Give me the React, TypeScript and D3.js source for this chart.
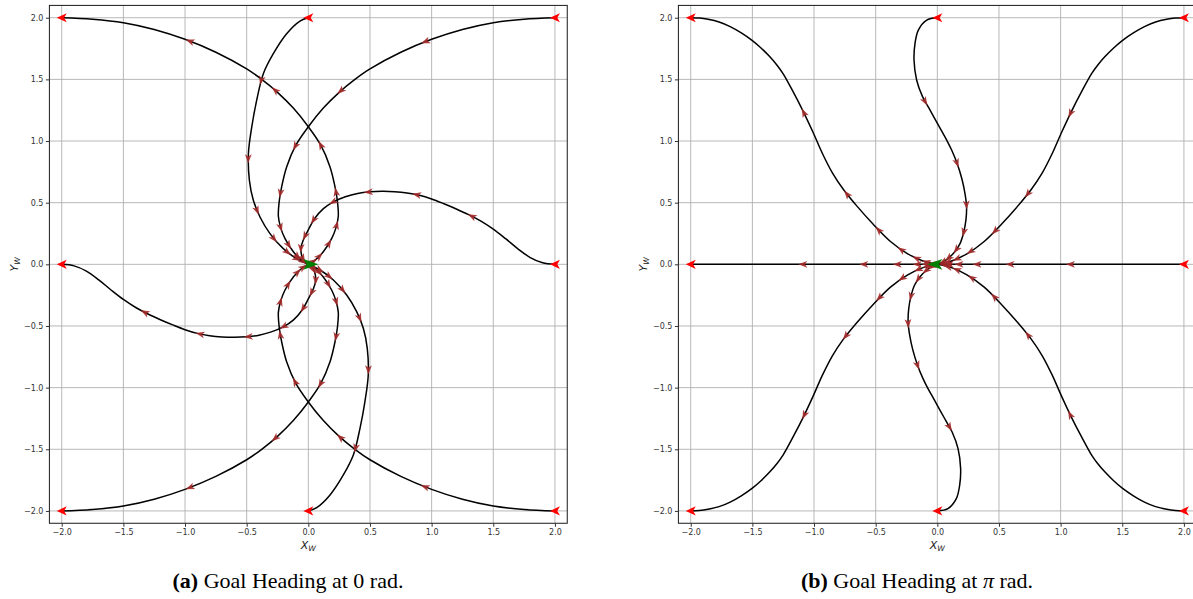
import React, { useEffect, useRef } from "react";
import * as d3 from "d3";

type Pt = [number, number];

// ---------- shared axis setup ----------
const TICK_VALUES: number[] = [-2, -1.5, -1, -0.5, 0, 0.5, 1, 1.5, 2];
const AXIS_LIMIT = 2.1;

// start heading of every run and the goal heading of each panel (rad)
const START_HEADING = Math.PI;
const GOAL_HEADINGS: number[] = [0, Math.PI];

// ---------- panel (a): goal heading 0 rad ----------
const A_FROM_NW: Pt[] = [[-2, 2], [-1.75, 1.988], [-1.5, 1.96], [-1.25, 1.905], [-1.0, 1.825], [-0.75, 1.72], [-0.5, 1.585], [-0.378, 1.5], [-0.25, 1.395], [-0.12, 1.265], [0, 1.116], [0.1, 0.968], [0.176, 0.79], [0.216, 0.63], [0.235, 0.52], [0.243, 0.39], [0.225, 0.3], [0.19, 0.21], [0.12, 0.1], [0.05, 0.03], [0, 0]];
const A_FROM_NW_HEADINGS: Pt[] = [[-0.96, 1.81], [-0.27, 1.41], [0.1, 0.968], [0.23, 0.589], [0.226, 0.32], [0.17, 0.17], [0.09, 0.065], [0.04, 0.025]];

const A_FROM_NE: Pt[] = [[2, 2], [1.75, 1.988], [1.5, 1.96], [1.25, 1.905], [1.0, 1.825], [0.75, 1.72], [0.5, 1.585], [0.378, 1.5], [0.25, 1.395], [0.12, 1.265], [0, 1.116], [-0.1, 0.968], [-0.176, 0.79], [-0.216, 0.63], [-0.235, 0.52], [-0.243, 0.39], [-0.225, 0.3], [-0.19, 0.21], [-0.12, 0.1], [-0.05, 0.03], [0, 0]];
const A_FROM_NE_HEADINGS: Pt[] = [[0.946, 1.81], [0.262, 1.41], [-0.105, 0.955], [-0.23, 0.575], [-0.22, 0.3], [-0.176, 0.145], [-0.09, 0.06], [-0.04, 0.022]];

const A_FROM_SW: Pt[] = [[-2, -2], [-1.75, -1.988], [-1.5, -1.96], [-1.25, -1.905], [-1.0, -1.825], [-0.75, -1.72], [-0.5, -1.585], [-0.378, -1.5], [-0.25, -1.395], [-0.12, -1.265], [0, -1.116], [0.1, -0.968], [0.176, -0.79], [0.216, -0.63], [0.235, -0.52], [0.243, -0.39], [0.225, -0.3], [0.19, -0.21], [0.12, -0.1], [0.05, -0.03], [0, 0]];
const A_FROM_SW_HEADINGS: Pt[] = [[-0.96, -1.81], [-0.27, -1.41], [0.09, -0.966], [0.224, -0.587], [0.224, -0.303], [0.176, -0.154], [0.09, -0.065], [0.04, -0.025]];

const A_FROM_SE: Pt[] = [[2, -2], [1.75, -1.988], [1.5, -1.96], [1.25, -1.905], [1.0, -1.825], [0.75, -1.72], [0.5, -1.585], [0.378, -1.5], [0.25, -1.395], [0.12, -1.265], [0, -1.116], [-0.1, -0.968], [-0.176, -0.79], [-0.216, -0.63], [-0.235, -0.52], [-0.243, -0.39], [-0.225, -0.3], [-0.19, -0.21], [-0.12, -0.1], [-0.05, -0.03], [0, 0]];
const A_FROM_SE_HEADINGS: Pt[] = [[0.946, -1.808], [0.262, -1.398], [-0.095, -0.946], [-0.23, -0.573], [-0.224, -0.303], [-0.176, -0.154], [-0.09, -0.06], [-0.04, -0.022]];

const A_FROM_N: Pt[] = [[0, 2], [-0.068, 1.973], [-0.176, 1.87], [-0.284, 1.708], [-0.365, 1.546], [-0.419, 1.33], [-0.459, 1.113], [-0.486, 0.897], [-0.478, 0.681], [-0.446, 0.519], [-0.392, 0.384], [-0.311, 0.249], [-0.203, 0.127], [-0.095, 0.046], [0, 0]];
const A_FROM_N_HEADINGS: Pt[] = [[-0.378, 1.49], [-0.486, 0.857], [-0.414, 0.438], [-0.289, 0.2], [-0.18, 0.086], [-0.1, 0.035]];

const A_FROM_S: Pt[] = [[0, -2], [0.068, -1.973], [0.176, -1.87], [0.284, -1.708], [0.365, -1.546], [0.419, -1.33], [0.459, -1.113], [0.486, -0.897], [0.478, -0.681], [0.446, -0.519], [0.392, -0.384], [0.311, -0.249], [0.203, -0.127], [0.095, -0.046], [0, 0]];
const A_FROM_S_HEADINGS: Pt[] = [[0.378, -1.49], [0.486, -0.857], [0.414, -0.438], [0.289, -0.2], [0.18, -0.086], [0.1, -0.035]];

const A_FROM_E: Pt[] = [[2, 0], [1.9, 0.0125], [1.8, 0.055], [1.7, 0.126], [1.6, 0.208], [1.5, 0.285], [1.4, 0.35], [1.3, 0.403], [1.2, 0.449], [1.1, 0.491], [1.0, 0.53], [0.9, 0.56], [0.8, 0.579], [0.7, 0.589], [0.6, 0.592], [0.5, 0.588], [0.4, 0.575], [0.3, 0.548], [0.2, 0.505], [0.12, 0.45], [0.05, 0.37], [0, 0.28], [-0.04, 0.2], [-0.06, 0.13], [-0.05, 0.06], [-0.025, 0.02], [0, 0]];
const A_FROM_E_HEADINGS: Pt[] = [[1.324, 0.38], [0.878, 0.56], [0.486, 0.59], [0.2, 0.505], [0.04, 0.36], [-0.045, 0.24], [-0.06, 0.13], [-0.04, 0.05]];

const A_FROM_W: Pt[] = [[-2, 0], [-1.9, -0.0125], [-1.8, -0.055], [-1.7, -0.126], [-1.6, -0.208], [-1.5, -0.285], [-1.4, -0.35], [-1.3, -0.403], [-1.2, -0.449], [-1.1, -0.491], [-1.0, -0.53], [-0.9, -0.56], [-0.8, -0.579], [-0.7, -0.589], [-0.6, -0.592], [-0.5, -0.588], [-0.4, -0.575], [-0.3, -0.548], [-0.2, -0.505], [-0.12, -0.45], [-0.05, -0.37], [0, -0.28], [0.04, -0.2], [0.06, -0.13], [0.05, -0.06], [0.025, -0.02], [0, 0]];
const A_FROM_W_HEADINGS: Pt[] = [[-1.324, -0.38], [-0.878, -0.56], [-0.486, -0.59], [-0.2, -0.505], [-0.04, -0.36], [0.045, -0.24], [0.06, -0.13], [0.04, -0.05]];

// ---------- panel (b): goal heading pi rad ----------
const B_FROM_W: Pt[] = [[-2, 0], [0, 0]];
const B_FROM_W_HEADINGS: Pt[] = [[-1.09, 0], [-0.595, 0], [-0.325, 0], [-0.165, 0], [-0.09, 0], [-0.045, 0]];

const B_FROM_E: Pt[] = [[2, 0], [0, 0]];
const B_FROM_E_HEADINGS: Pt[] = [[1.08, 0], [0.59, 0], [0.32, 0], [0.175, 0], [0.095, 0], [0.05, 0]];

const B_FROM_NW: Pt[] = [[-2, 2], [-1.93, 1.997], [-1.86, 1.987], [-1.77, 1.965], [-1.68, 1.928], [-1.59, 1.877], [-1.5, 1.815], [-1.43, 1.755], [-1.36, 1.685], [-1.3, 1.615], [-1.25, 1.545], [-1.17, 1.4], [-1.09, 1.245], [-1.01, 1.075], [-0.93, 0.895], [-0.85, 0.74], [-0.76, 0.605], [-0.65, 0.47], [-0.52, 0.325], [-0.38, 0.185], [-0.24, 0.085], [-0.11, 0.025], [0, 0]];
const B_FROM_NW_HEADINGS: Pt[] = [[-1.086, 1.228], [-0.735, 0.57], [-0.478, 0.278], [-0.289, 0.12], [-0.168, 0.055], [-0.09, 0.024]];

const B_FROM_NE: Pt[] = [[2, 2], [1.93, 1.997], [1.86, 1.987], [1.77, 1.965], [1.68, 1.928], [1.59, 1.877], [1.5, 1.815], [1.43, 1.755], [1.36, 1.685], [1.3, 1.615], [1.25, 1.545], [1.17, 1.4], [1.09, 1.245], [1.01, 1.075], [0.93, 0.895], [0.85, 0.74], [0.76, 0.605], [0.65, 0.47], [0.52, 0.325], [0.38, 0.185], [0.24, 0.085], [0.11, 0.025], [0, 0]];
const B_FROM_NE_HEADINGS: Pt[] = [[1.081, 1.224], [0.733, 0.57], [0.468, 0.27], [0.265, 0.11], [0.157, 0.05], [0.085, 0.022]];

const B_FROM_SW: Pt[] = [[-2, -2], [-1.93, -1.997], [-1.86, -1.987], [-1.77, -1.965], [-1.68, -1.928], [-1.59, -1.877], [-1.5, -1.815], [-1.43, -1.755], [-1.36, -1.685], [-1.3, -1.615], [-1.25, -1.545], [-1.17, -1.4], [-1.09, -1.245], [-1.01, -1.075], [-0.93, -0.895], [-0.85, -0.74], [-0.76, -0.605], [-0.65, -0.47], [-0.52, -0.325], [-0.38, -0.185], [-0.24, -0.085], [-0.11, -0.025], [0, 0]];
const B_FROM_SW_HEADINGS: Pt[] = [[-1.086, -1.222], [-0.74, -0.587], [-0.478, -0.262], [-0.29, -0.108], [-0.154, -0.045], [-0.08, -0.018]];

const B_FROM_SE: Pt[] = [[2, -2], [1.93, -1.997], [1.86, -1.987], [1.77, -1.965], [1.68, -1.928], [1.59, -1.877], [1.5, -1.815], [1.43, -1.755], [1.36, -1.685], [1.3, -1.615], [1.25, -1.545], [1.17, -1.4], [1.09, -1.245], [1.01, -1.075], [0.93, -0.895], [0.85, -0.74], [0.76, -0.605], [0.65, -0.47], [0.52, -0.325], [0.38, -0.185], [0.24, -0.085], [0.11, -0.025], [0, 0]];
const B_FROM_SE_HEADINGS: Pt[] = [[1.081, -1.217], [0.738, -0.573], [0.473, -0.254], [0.278, -0.108], [0.157, -0.05], [0.085, -0.02]];

const B_FROM_N: Pt[] = [[0, 2], [-0.086, 1.981], [-0.154, 1.9], [-0.181, 1.792], [-0.189, 1.657], [-0.168, 1.495], [-0.12, 1.36], [-0.07, 1.27], [-0.02, 1.18], [0.03, 1.09], [0.08, 1.0], [0.116, 0.927], [0.16, 0.82], [0.2, 0.69], [0.225, 0.57], [0.237, 0.47], [0.232, 0.36], [0.214, 0.26], [0.185, 0.17], [0.14, 0.1], [0.09, 0.05], [0.04, 0.015], [0, 0]];
const B_FROM_N_HEADINGS: Pt[] = [[-0.1, 1.32], [0.157, 0.82], [0.233, 0.48], [0.214, 0.26], [0.155, 0.12], [0.09, 0.05], [0.045, 0.018]];

const B_FROM_S: Pt[] = [[0, -2], [0.086, -1.981], [0.154, -1.9], [0.181, -1.792], [0.189, -1.657], [0.168, -1.495], [0.12, -1.36], [0.07, -1.27], [0.02, -1.18], [-0.03, -1.09], [-0.08, -1.0], [-0.116, -0.927], [-0.16, -0.82], [-0.2, -0.69], [-0.225, -0.57], [-0.237, -0.47], [-0.232, -0.36], [-0.214, -0.26], [-0.185, -0.17], [-0.14, -0.1], [-0.09, -0.05], [-0.04, -0.015], [0, 0]];
const B_FROM_S_HEADINGS: Pt[] = [[0.1, -1.32], [-0.157, -0.82], [-0.233, -0.48], [-0.214, -0.26], [-0.155, -0.12], [-0.09, -0.05], [-0.045, -0.018]];

type Trajectory = { points: Pt[]; headings: Pt[]; reversing: boolean };

const PANEL_A: Trajectory[] = [
  { points: A_FROM_NW, headings: A_FROM_NW_HEADINGS, reversing: true },
  { points: A_FROM_NE, headings: A_FROM_NE_HEADINGS, reversing: false },
  { points: A_FROM_SW, headings: A_FROM_SW_HEADINGS, reversing: true },
  { points: A_FROM_SE, headings: A_FROM_SE_HEADINGS, reversing: false },
  { points: A_FROM_N, headings: A_FROM_N_HEADINGS, reversing: false },
  { points: A_FROM_S, headings: A_FROM_S_HEADINGS, reversing: true },
  { points: A_FROM_E, headings: A_FROM_E_HEADINGS, reversing: false },
  { points: A_FROM_W, headings: A_FROM_W_HEADINGS, reversing: true },
];

const PANEL_B: Trajectory[] = [
  { points: B_FROM_W, headings: B_FROM_W_HEADINGS, reversing: true },
  { points: B_FROM_E, headings: B_FROM_E_HEADINGS, reversing: false },
  { points: B_FROM_NW, headings: B_FROM_NW_HEADINGS, reversing: true },
  { points: B_FROM_NE, headings: B_FROM_NE_HEADINGS, reversing: false },
  { points: B_FROM_SW, headings: B_FROM_SW_HEADINGS, reversing: true },
  { points: B_FROM_SE, headings: B_FROM_SE_HEADINGS, reversing: false },
  { points: B_FROM_N, headings: B_FROM_N_HEADINGS, reversing: false },
  { points: B_FROM_S, headings: B_FROM_S_HEADINGS, reversing: true },
];

const CAPTION_TAGS: string[] = ["(a)", "(b)"];
const CAPTION_VALUES: string[] = ["0", "π"];

// ---------- layout ----------
const WIDTH = 1193;
const HEIGHT = 599;
const PX_PER_UNIT = 123.3;
const PLOT = 2 * AXIS_LIMIT * PX_PER_UNIT;
const TOP = 5.4;
const PANEL_LEFT = [49.4, 678.4];
const CAPTION_X = [288, 917];

// arrowhead glyphs, drawn pointing along +x
const HEAD_SMALL = "M4.5,0 L-4.5,3.4 L-2.3,0 L-4.5,-3.4 Z";
const HEAD_START = "M5,0 L-5,4.6 L-2.4,0 L-5,-4.6 Z";
const HEAD_GOAL = "M10,0 L-5,5.4 L-1.5,0 L-5,-5.4 Z";

const toDeg = (rad: number) => (rad * 180) / Math.PI;

export default function App() {
  const ref = useRef<SVGSVGElement>(null);

  useEffect(() => {
    const svg = d3.select(ref.current as SVGSVGElement);
    svg.selectAll("*").remove();

    [PANEL_A, PANEL_B].forEach((trajectories, i) => {
      const x = d3.scaleLinear().domain([-AXIS_LIMIT, AXIS_LIMIT]).range([0, PLOT]);
      const y = d3.scaleLinear().domain([-AXIS_LIMIT, AXIS_LIMIT]).range([PLOT, 0]);
      const g = svg.append("g").attr("transform", `translate(${PANEL_LEFT[i]},${TOP})`);

      // grid
      const grid = g.append("g").attr("stroke", "#b0b0b0").attr("stroke-width", 0.9);
      grid.selectAll("line.gx").data(TICK_VALUES).join("line").attr("class", "gx")
        .attr("x1", (d) => x(d)).attr("x2", (d) => x(d)).attr("y1", 0).attr("y2", PLOT);
      grid.selectAll("line.gy").data(TICK_VALUES).join("line").attr("class", "gy")
        .attr("x1", 0).attr("x2", PLOT).attr("y1", (d) => y(d)).attr("y2", (d) => y(d));

      // trajectories
      const line = d3.line<Pt>()
        .x((d) => x(d[0]))
        .y((d) => y(d[1]))
        .curve(d3.curveCatmullRom.alpha(0.5));

      const marks: { x: number; y: number; ang: number }[] = [];
      const lines = g.append("g");
      trajectories.forEach((t) => {
        const path = lines.append("path")
          .attr("d", line(t.points) as string)
          .attr("fill", "none")
          .attr("stroke", "#000")
          .attr("stroke-width", 1.5)
          .attr("stroke-linejoin", "round");
        const node = path.node() as SVGPathElement;
        const total = node.getTotalLength();
        const samples = d3.range(0, total, 0.5).concat([total]).map((l) => node.getPointAtLength(l));
        t.headings.forEach(([hx, hy]) => {
          const px = x(hx);
          const py = y(hy);
          const idx = d3.minIndex(samples, (s) => (s.x - px) ** 2 + (s.y - py) ** 2);
          const a = samples[Math.max(idx - 2, 0)];
          const b = samples[Math.min(idx + 2, samples.length - 1)];
          let ang = toDeg(Math.atan2(b.y - a.y, b.x - a.x));
          if (t.reversing) ang += 180;
          marks.push({ x: samples[idx].x, y: samples[idx].y, ang });
        });
      });

      // heading arrows along each path
      g.append("g").selectAll("path").data(marks).join("path")
        .attr("d", HEAD_SMALL)
        .attr("fill", "#a52a2a")
        .attr("fill-opacity", 0.9)
        .attr("transform", (d) => `translate(${d.x},${d.y}) rotate(${d.ang})`);

      // start poses
      g.append("g").selectAll("path").data(trajectories).join("path")
        .attr("d", HEAD_START)
        .attr("fill", "#ff0000")
        .attr("transform", (d) => `translate(${x(d.points[0][0])},${y(d.points[0][1])}) rotate(${-toDeg(START_HEADING)})`);

      // goal pose
      g.append("path")
        .attr("d", HEAD_GOAL)
        .attr("fill", "#008000")
        .attr("transform", `translate(${x(0)},${y(0)}) rotate(${-toDeg(GOAL_HEADINGS[i])})`);

      // frame
      g.append("rect").attr("x", 0).attr("y", 0).attr("width", PLOT).attr("height", PLOT)
        .attr("fill", "none").attr("stroke", "#1a1a1a").attr("stroke-width", 1);

      // axes
      const fmt = d3.format(".1f");
      const xAxis = d3.axisBottom(x).tickValues(TICK_VALUES).tickFormat((d) => fmt(d as number))
        .tickSizeInner(3.5).tickSizeOuter(0).tickPadding(2.5);
      const yAxis = d3.axisLeft(y).tickValues(TICK_VALUES).tickFormat((d) => fmt(d as number))
        .tickSizeInner(3.5).tickSizeOuter(0).tickPadding(2.5);
      const gx = g.append("g").attr("transform", `translate(0,${PLOT})`).call(xAxis);
      const gy = g.append("g").call(yAxis);
      [gx, gy].forEach((ax) => {
        ax.select(".domain").remove();
        ax.attr("font-family", "'DejaVu Sans', sans-serif").attr("font-size", 8);
        ax.selectAll(".tick line").attr("stroke", "#333");
        ax.selectAll(".tick text").attr("fill", "#333");
      });

      // axis titles
      const xt = g.append("text")
        .attr("x", PLOT / 2).attr("y", 549.5 - TOP)
        .attr("text-anchor", "middle")
        .attr("font-family", "'DejaVu Sans', sans-serif")
        .attr("font-style", "italic").attr("font-size", 11).attr("fill", "#222");
      xt.append("tspan").text("X");
      xt.append("tspan").attr("font-size", 7.7).attr("dy", 2).text("W");

      const yt = g.append("text")
        .attr("transform", `translate(-31,${PLOT / 2}) rotate(-90)`)
        .attr("text-anchor", "middle")
        .attr("font-family", "'DejaVu Sans', sans-serif")
        .attr("font-style", "italic").attr("font-size", 11).attr("fill", "#222");
      yt.append("tspan").text("Y");
      yt.append("tspan").attr("font-size", 7.7).attr("dy", 2).text("W");

      // caption
      const cap = svg.append("text")
        .attr("x", CAPTION_X[i]).attr("y", 588)
        .attr("text-anchor", "middle")
        .attr("font-family", "'Liberation Serif', 'Times New Roman', serif")
        .attr("font-size", 22).attr("fill", "#000");
      cap.append("tspan").attr("font-weight", "bold").text(CAPTION_TAGS[i]);
      cap.append("tspan").text(" Goal Heading at ");
      cap.append("tspan").attr("font-style", i === 1 ? "italic" : "normal").text(CAPTION_VALUES[i]);
      cap.append("tspan").text(" rad.");
    });
  }, []);

  return (
    <svg
      ref={ref}
      width={WIDTH}
      height={HEIGHT}
      style={{ position: "absolute", left: 0, top: 0, background: "#fff" }}
    />
  );
}
